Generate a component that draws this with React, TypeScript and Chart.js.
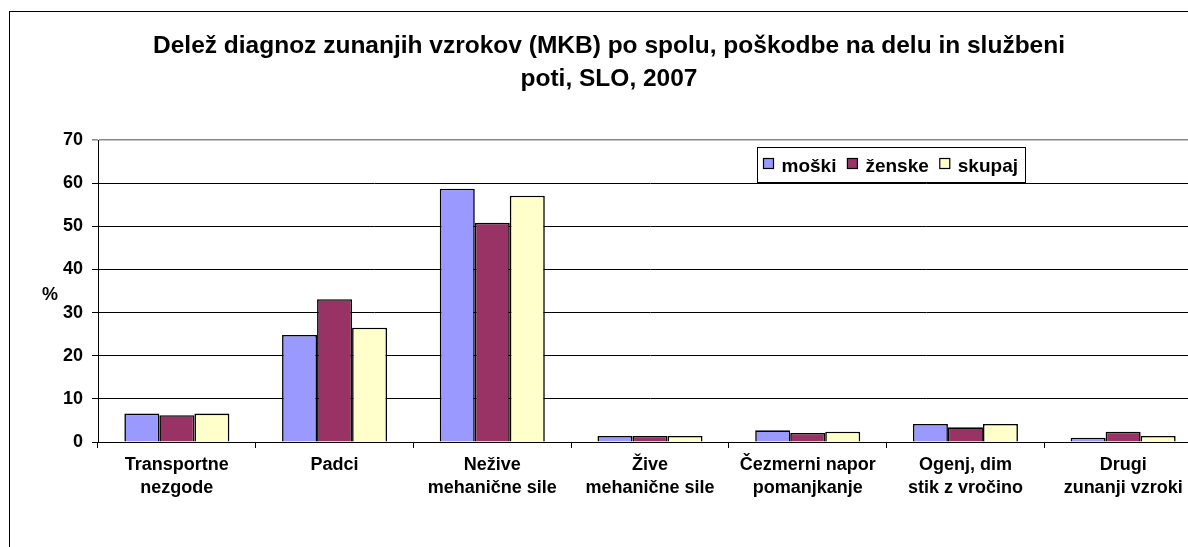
import React, { useEffect, useRef } from "react";
import { Chart, registerables } from "chart.js";

Chart.register(...registerables);

const titleLines = [
  "Delež diagnoz zunanjih vzrokov (MKB) po spolu, poškodbe na delu in službeni",
  "poti, SLO, 2007",
];
const categories: (string | string[])[] = [
  ["Transportne", "nezgode"],
  "Padci",
  ["Nežive", "mehanične sile"],
  ["Žive", "mehanične sile"],
  ["Čezmerni napor", "pomanjkanje"],
  ["Ogenj, dim", "stik z vročino"],
  ["Drugi", "zunanji vzroki"],
];
const seriesNames = ["moški", "ženske", "skupaj"];
const moski = [6.6, 24.8, 58.7, 1.4, 2.7, 4.2, 1.0];
const zenske = [6.2, 33.1, 50.8, 1.4, 2.1, 3.4, 2.4];
const skupaj = [6.6, 26.5, 57.1, 1.4, 2.4, 4.2, 1.4];
const seriesColors = ["#9999FF", "#993366", "#FFFFCC"];
const yMin = 0;
const yMax = 70;
const yStep = 10;
const yUnit = "%";

const FONT = "'Liberation Sans', Arial, sans-serif";

const decorPlugin = {
  id: "decor",
  afterDraw(chart: any) {
    const ctx = chart.ctx;
    ctx.save();
    // outer chart border
    ctx.strokeStyle = "#000";
    ctx.lineWidth = 1;
    ctx.strokeRect(1.5, 3.5, 1199, 620);
    // unit label
    ctx.fillStyle = "#000";
    ctx.font = `bold 18px ${FONT}`;
    ctx.textAlign = "center";
    ctx.textBaseline = "middle";
    ctx.fillText(yUnit, 42, 287);
    // legend
    const bx = 749.5;
    const by = 139.5;
    const bw = 268;
    const bh = 35;
    ctx.fillStyle = "#fff";
    ctx.fillRect(bx, by, bw, bh);
    ctx.strokeStyle = "#000";
    ctx.strokeRect(bx, by, bw, bh);
    ctx.font = `bold 19px ${FONT}`;
    let x = bx + 6;
    ctx.textAlign = "left";
    ctx.textBaseline = "alphabetic";
    chart.data.datasets.forEach((ds: any) => {
      ctx.fillStyle = ds.backgroundColor;
      ctx.fillRect(x, by + 11, 10, 10);
      ctx.strokeStyle = "#000";
      ctx.lineWidth = 1.2;
      ctx.strokeRect(x, by + 11, 10, 10);
      ctx.fillStyle = "#000";
      ctx.fillText(ds.label, x + 18, by + 24);
      x += 18 + ctx.measureText(ds.label).width + 11;
    });
    ctx.restore();
  },
};

export default function App() {
  const ref = useRef<HTMLCanvasElement | null>(null);
  useEffect(() => {
    document.documentElement.style.overflow = "hidden";
    document.body.style.marginRight = "0px";
    if (!ref.current) return;
    const values = [moski, zenske, skupaj];
    const chart = new Chart(ref.current, {
      type: "bar",
      data: {
        labels: categories,
        datasets: seriesNames.map((name, i) => ({
          label: name,
          data: values[i],
          backgroundColor: seriesColors[i],
          borderColor: "#000",
          borderWidth: 1.6,
          categoryPercentage: 0.666,
          barPercentage: 1,
        })),
      },
      options: {
        responsive: false,
        animation: false,
        layout: { padding: { left: 8, right: 16, top: 0, bottom: 26 } },
        plugins: {
          legend: { display: false },
          tooltip: { enabled: false },
          title: {
            display: true,
            text: titleLines,
            color: "#000",
            font: { family: FONT, size: 24.5, weight: "bold", lineHeight: 1.347 },
            padding: { top: 22, bottom: 44 },
          },
        },
        scales: {
          x: {
            afterFit: (s: any) => {
              s.height = 100;
            },
            grid: {
              offset: true,
              drawOnChartArea: false,
              tickLength: 6,
              color: "#000",
            },
            border: { color: "#000", width: 1 },
            ticks: {
              color: "#000",
              autoSkip: false,
              maxRotation: 0,
              padding: 5,
              font: { family: FONT, size: 18, weight: "bold", lineHeight: 1.3 },
            },
          },
          y: {
            min: yMin,
            max: yMax,
            afterFit: (s: any) => {
              s.width = 82;
            },
            grid: {
              tickLength: 6,
              color: (c: any) => (c.tick && c.tick.value === yMax ? "#888" : "#000"),
              lineWidth: (c: any) => (c.tick && c.tick.value === yMax ? 1.5 : 1),
            },
            border: { color: "#000", width: 1 },
            ticks: {
              stepSize: yStep,
              color: "#000",
              padding: 9,
              font: { family: FONT, size: 18, weight: "bold" },
            },
          },
        },
      },
      plugins: [decorPlugin],
    });
    return () => chart.destroy();
  }, []);
  return (
    <div style={{ width: 1180, height: 539, overflow: "hidden" }}>
      <canvas ref={ref} width={1210} height={560} style={{ display: "block" }} />
    </div>
  );
}
